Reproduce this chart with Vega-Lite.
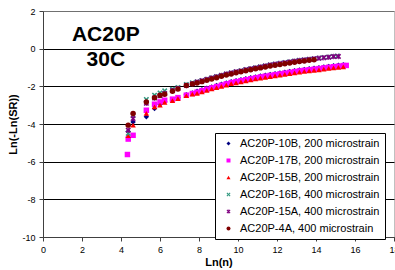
{
  "$schema": "https://vega.github.io/schema/vega-lite/v6.json",
  "width": 351,
  "height": 226,
  "autosize": {"type": "none"},
  "padding": {"left": 43, "top": 11, "right": 1, "bottom": 33},
  "background": "white",
  "config": {"font": "Liberation Sans", "view": {"stroke": "#c0c0c0", "strokeWidth": 1}},
  "encoding": {
    "x": {"field": "x", "type": "quantitative", "scale": {"domain": [0, 18], "nice": false},
      "axis": {"values": [0, 2, 4, 6, 8, 10, 12, 14, 16, 18], "labelOverlap": false, "labelBound": false, "labelFlush": false, "grid": false, "domainColor": "#404040", "tickColor": "#404040", "tickSize": 4, "labelFontSize": 9, "labelColor": "black", "labelPadding": 4, "labelExpr": "'' + datum.value", "title": "Ln(n)", "titleFontSize": 11, "titleFontWeight": "bold", "titleColor": "black", "titlePadding": 2}},
    "y": {"field": "y", "type": "quantitative", "scale": {"domain": [-10, 2], "nice": false},
      "axis": {"values": [-10, -8, -6, -4, -2, 0, 2], "labelOverlap": false, "labelBound": false, "labelFlush": false, "grid": true, "gridColor": {"condition": {"test": "datum.value === 2", "value": "#707070"}, "value": "black"}, "gridOpacity": 1, "gridWidth": 1, "domainColor": "#404040", "tickColor": "#404040", "tickSize": 4, "labelFontSize": 9, "labelColor": "black", "labelPadding": 4, "labelExpr": "'' + datum.value", "title": "Ln(-Ln(SR))", "titleFontSize": 11, "titleFontWeight": "bold", "titleColor": "black", "titlePadding": 3}}
  },
  "layer": [
    {
      "data": {"values": [
        {"s":"AC20P-10B, 200 microstrain","x":4.37,"y":-4.4},{"s":"AC20P-10B, 200 microstrain","x":4.62,"y":-3.89},{"s":"AC20P-10B, 200 microstrain","x":5.3,"y":-3.62},{"s":"AC20P-10B, 200 microstrain","x":5.72,"y":-3.18},{"s":"AC20P-10B, 200 microstrain","x":6.0,"y":-2.95},{"s":"AC20P-10B, 200 microstrain","x":6.24,"y":-2.8},{"s":"AC20P-10B, 200 microstrain","x":6.64,"y":-2.72},{"s":"AC20P-10B, 200 microstrain","x":6.92,"y":-2.6},{"s":"AC20P-10B, 200 microstrain","x":7.35,"y":-2.45},{"s":"AC20P-10B, 200 microstrain","x":7.66,"y":-2.35},
        {"s":"AC20P-10B, 200 microstrain","x":7.9,"y":-2.26},{"s":"AC20P-10B, 200 microstrain","x":8.15,"y":-2.18},{"s":"AC20P-10B, 200 microstrain","x":8.4,"y":-2.1},{"s":"AC20P-10B, 200 microstrain","x":8.65,"y":-2.03},{"s":"AC20P-10B, 200 microstrain","x":8.9,"y":-1.96},{"s":"AC20P-10B, 200 microstrain","x":9.15,"y":-1.89},{"s":"AC20P-10B, 200 microstrain","x":9.4,"y":-1.82},{"s":"AC20P-10B, 200 microstrain","x":9.65,"y":-1.75},{"s":"AC20P-10B, 200 microstrain","x":9.9,"y":-1.7},{"s":"AC20P-10B, 200 microstrain","x":10.15,"y":-1.65},{"s":"AC20P-10B, 200 microstrain","x":10.4,"y":-1.6},{"s":"AC20P-10B, 200 microstrain","x":10.65,"y":-1.55},{"s":"AC20P-10B, 200 microstrain","x":10.9,"y":-1.5},{"s":"AC20P-10B, 200 microstrain","x":11.15,"y":-1.45},{"s":"AC20P-10B, 200 microstrain","x":11.4,"y":-1.41},{"s":"AC20P-10B, 200 microstrain","x":11.65,"y":-1.37},{"s":"AC20P-10B, 200 microstrain","x":11.9,"y":-1.33},{"s":"AC20P-10B, 200 microstrain","x":12.15,"y":-1.29},{"s":"AC20P-10B, 200 microstrain","x":12.4,"y":-1.25},{"s":"AC20P-10B, 200 microstrain","x":12.65,"y":-1.21},{"s":"AC20P-10B, 200 microstrain","x":12.9,"y":-1.17},{"s":"AC20P-10B, 200 microstrain","x":13.15,"y":-1.13},{"s":"AC20P-10B, 200 microstrain","x":13.4,"y":-1.1},{"s":"AC20P-10B, 200 microstrain","x":13.65,"y":-1.07},{"s":"AC20P-10B, 200 microstrain","x":13.9,"y":-1.04},{"s":"AC20P-10B, 200 microstrain","x":14.15,"y":-1.01},{"s":"AC20P-10B, 200 microstrain","x":14.4,"y":-0.97},{"s":"AC20P-10B, 200 microstrain","x":14.65,"y":-0.94},{"s":"AC20P-10B, 200 microstrain","x":14.9,"y":-0.91},{"s":"AC20P-10B, 200 microstrain","x":15.15,"y":-0.88},{"s":"AC20P-10B, 200 microstrain","x":15.4,"y":-0.85},

        {"s":"AC20P-17B, 200 microstrain","x":4.33,"y":-5.62},{"s":"AC20P-17B, 200 microstrain","x":4.37,"y":-4.8},{"s":"AC20P-17B, 200 microstrain","x":4.62,"y":-4.6},{"s":"AC20P-17B, 200 microstrain","x":5.3,"y":-3.27},{"s":"AC20P-17B, 200 microstrain","x":5.72,"y":-2.95},{"s":"AC20P-17B, 200 microstrain","x":6.0,"y":-2.83},{"s":"AC20P-17B, 200 microstrain","x":6.24,"y":-2.74},{"s":"AC20P-17B, 200 microstrain","x":6.64,"y":-2.68},{"s":"AC20P-17B, 200 microstrain","x":6.92,"y":-2.6},{"s":"AC20P-17B, 200 microstrain","x":7.35,"y":-2.47},{"s":"AC20P-17B, 200 microstrain","x":7.66,"y":-2.38},
        {"s":"AC20P-17B, 200 microstrain","x":7.9,"y":-2.31},{"s":"AC20P-17B, 200 microstrain","x":8.15,"y":-2.23},{"s":"AC20P-17B, 200 microstrain","x":8.4,"y":-2.15},{"s":"AC20P-17B, 200 microstrain","x":8.65,"y":-2.08},{"s":"AC20P-17B, 200 microstrain","x":8.9,"y":-2.01},{"s":"AC20P-17B, 200 microstrain","x":9.15,"y":-1.94},{"s":"AC20P-17B, 200 microstrain","x":9.4,"y":-1.87},{"s":"AC20P-17B, 200 microstrain","x":9.65,"y":-1.8},{"s":"AC20P-17B, 200 microstrain","x":9.9,"y":-1.75},{"s":"AC20P-17B, 200 microstrain","x":10.15,"y":-1.7},{"s":"AC20P-17B, 200 microstrain","x":10.4,"y":-1.65},{"s":"AC20P-17B, 200 microstrain","x":10.65,"y":-1.6},{"s":"AC20P-17B, 200 microstrain","x":10.9,"y":-1.55},{"s":"AC20P-17B, 200 microstrain","x":11.15,"y":-1.5},{"s":"AC20P-17B, 200 microstrain","x":11.4,"y":-1.46},{"s":"AC20P-17B, 200 microstrain","x":11.65,"y":-1.42},{"s":"AC20P-17B, 200 microstrain","x":11.9,"y":-1.38},{"s":"AC20P-17B, 200 microstrain","x":12.15,"y":-1.34},{"s":"AC20P-17B, 200 microstrain","x":12.4,"y":-1.3},{"s":"AC20P-17B, 200 microstrain","x":12.65,"y":-1.26},{"s":"AC20P-17B, 200 microstrain","x":12.9,"y":-1.22},{"s":"AC20P-17B, 200 microstrain","x":13.15,"y":-1.18},{"s":"AC20P-17B, 200 microstrain","x":13.4,"y":-1.15},{"s":"AC20P-17B, 200 microstrain","x":13.65,"y":-1.12},{"s":"AC20P-17B, 200 microstrain","x":13.9,"y":-1.09},{"s":"AC20P-17B, 200 microstrain","x":14.15,"y":-1.06},{"s":"AC20P-17B, 200 microstrain","x":14.4,"y":-1.02},{"s":"AC20P-17B, 200 microstrain","x":14.65,"y":-0.99},{"s":"AC20P-17B, 200 microstrain","x":14.9,"y":-0.96},{"s":"AC20P-17B, 200 microstrain","x":15.15,"y":-0.93},{"s":"AC20P-17B, 200 microstrain","x":15.4,"y":-0.9},{"s":"AC20P-17B, 200 microstrain","x":15.55,"y":-0.89},

        {"s":"AC20P-15B, 200 microstrain","x":4.37,"y":-4.62},{"s":"AC20P-15B, 200 microstrain","x":4.62,"y":-4.06},{"s":"AC20P-15B, 200 microstrain","x":5.3,"y":-3.44},{"s":"AC20P-15B, 200 microstrain","x":5.72,"y":-3.09},{"s":"AC20P-15B, 200 microstrain","x":6.0,"y":-3.0},{"s":"AC20P-15B, 200 microstrain","x":6.24,"y":-2.85},{"s":"AC20P-15B, 200 microstrain","x":6.64,"y":-2.76},{"s":"AC20P-15B, 200 microstrain","x":6.92,"y":-2.65},{"s":"AC20P-15B, 200 microstrain","x":7.35,"y":-2.5},{"s":"AC20P-15B, 200 microstrain","x":7.66,"y":-2.42},
        {"s":"AC20P-15B, 200 microstrain","x":7.9,"y":-2.37},{"s":"AC20P-15B, 200 microstrain","x":8.15,"y":-2.29},{"s":"AC20P-15B, 200 microstrain","x":8.4,"y":-2.21},{"s":"AC20P-15B, 200 microstrain","x":8.65,"y":-2.14},{"s":"AC20P-15B, 200 microstrain","x":8.9,"y":-2.07},{"s":"AC20P-15B, 200 microstrain","x":9.15,"y":-2.0},{"s":"AC20P-15B, 200 microstrain","x":9.4,"y":-1.93},{"s":"AC20P-15B, 200 microstrain","x":9.65,"y":-1.86},{"s":"AC20P-15B, 200 microstrain","x":9.9,"y":-1.81},{"s":"AC20P-15B, 200 microstrain","x":10.15,"y":-1.76},{"s":"AC20P-15B, 200 microstrain","x":10.4,"y":-1.71},{"s":"AC20P-15B, 200 microstrain","x":10.65,"y":-1.66},{"s":"AC20P-15B, 200 microstrain","x":10.9,"y":-1.61},{"s":"AC20P-15B, 200 microstrain","x":11.15,"y":-1.56},{"s":"AC20P-15B, 200 microstrain","x":11.4,"y":-1.52},{"s":"AC20P-15B, 200 microstrain","x":11.65,"y":-1.48},{"s":"AC20P-15B, 200 microstrain","x":11.9,"y":-1.44},{"s":"AC20P-15B, 200 microstrain","x":12.15,"y":-1.4},{"s":"AC20P-15B, 200 microstrain","x":12.4,"y":-1.36},{"s":"AC20P-15B, 200 microstrain","x":12.65,"y":-1.32},{"s":"AC20P-15B, 200 microstrain","x":12.9,"y":-1.28},{"s":"AC20P-15B, 200 microstrain","x":13.15,"y":-1.24},{"s":"AC20P-15B, 200 microstrain","x":13.4,"y":-1.21},{"s":"AC20P-15B, 200 microstrain","x":13.65,"y":-1.18},{"s":"AC20P-15B, 200 microstrain","x":13.9,"y":-1.15},{"s":"AC20P-15B, 200 microstrain","x":14.15,"y":-1.12},{"s":"AC20P-15B, 200 microstrain","x":14.4,"y":-1.08},{"s":"AC20P-15B, 200 microstrain","x":14.65,"y":-1.05},{"s":"AC20P-15B, 200 microstrain","x":14.9,"y":-1.02},{"s":"AC20P-15B, 200 microstrain","x":15.15,"y":-0.99},{"s":"AC20P-15B, 200 microstrain","x":15.4,"y":-0.97},

        {"s":"AC20P-16B, 400 microstrain","x":4.37,"y":-4.5},{"s":"AC20P-16B, 400 microstrain","x":4.62,"y":-3.55},{"s":"AC20P-16B, 400 microstrain","x":5.3,"y":-2.7},{"s":"AC20P-16B, 400 microstrain","x":5.72,"y":-2.47},{"s":"AC20P-16B, 400 microstrain","x":6.0,"y":-2.35},{"s":"AC20P-16B, 400 microstrain","x":6.24,"y":-2.24},{"s":"AC20P-16B, 400 microstrain","x":6.64,"y":-2.15},{"s":"AC20P-16B, 400 microstrain","x":6.92,"y":-2.06},{"s":"AC20P-16B, 400 microstrain","x":7.35,"y":-1.9},{"s":"AC20P-16B, 400 microstrain","x":7.66,"y":-1.81},
        {"s":"AC20P-16B, 400 microstrain","x":7.9,"y":-1.76},{"s":"AC20P-16B, 400 microstrain","x":8.15,"y":-1.69},{"s":"AC20P-16B, 400 microstrain","x":8.4,"y":-1.62},{"s":"AC20P-16B, 400 microstrain","x":8.65,"y":-1.55},{"s":"AC20P-16B, 400 microstrain","x":8.9,"y":-1.48},{"s":"AC20P-16B, 400 microstrain","x":9.15,"y":-1.41},{"s":"AC20P-16B, 400 microstrain","x":9.4,"y":-1.34},{"s":"AC20P-16B, 400 microstrain","x":9.65,"y":-1.28},{"s":"AC20P-16B, 400 microstrain","x":9.9,"y":-1.22},{"s":"AC20P-16B, 400 microstrain","x":10.15,"y":-1.17},{"s":"AC20P-16B, 400 microstrain","x":10.4,"y":-1.11},{"s":"AC20P-16B, 400 microstrain","x":10.65,"y":-1.06},{"s":"AC20P-16B, 400 microstrain","x":10.9,"y":-1.01},{"s":"AC20P-16B, 400 microstrain","x":11.15,"y":-0.96},{"s":"AC20P-16B, 400 microstrain","x":11.4,"y":-0.91},{"s":"AC20P-16B, 400 microstrain","x":11.65,"y":-0.86},{"s":"AC20P-16B, 400 microstrain","x":11.9,"y":-0.82},{"s":"AC20P-16B, 400 microstrain","x":12.15,"y":-0.78},{"s":"AC20P-16B, 400 microstrain","x":12.4,"y":-0.74},{"s":"AC20P-16B, 400 microstrain","x":12.65,"y":-0.7},{"s":"AC20P-16B, 400 microstrain","x":12.9,"y":-0.66},{"s":"AC20P-16B, 400 microstrain","x":13.15,"y":-0.62},{"s":"AC20P-16B, 400 microstrain","x":13.4,"y":-0.59},{"s":"AC20P-16B, 400 microstrain","x":13.65,"y":-0.56},{"s":"AC20P-16B, 400 microstrain","x":13.9,"y":-0.53},{"s":"AC20P-16B, 400 microstrain","x":14.15,"y":-0.5},{"s":"AC20P-16B, 400 microstrain","x":14.4,"y":-0.47},{"s":"AC20P-16B, 400 microstrain","x":14.65,"y":-0.44},{"s":"AC20P-16B, 400 microstrain","x":14.9,"y":-0.41},{"s":"AC20P-16B, 400 microstrain","x":15.1,"y":-0.39},

        {"s":"AC20P-15A, 400 microstrain","x":4.37,"y":-4.33},{"s":"AC20P-15A, 400 microstrain","x":4.62,"y":-3.71},{"s":"AC20P-15A, 400 microstrain","x":5.3,"y":-2.9},{"s":"AC20P-15A, 400 microstrain","x":5.72,"y":-2.62},{"s":"AC20P-15A, 400 microstrain","x":6.0,"y":-2.5},{"s":"AC20P-15A, 400 microstrain","x":6.24,"y":-2.38},{"s":"AC20P-15A, 400 microstrain","x":6.64,"y":-2.22},{"s":"AC20P-15A, 400 microstrain","x":6.92,"y":-2.12},{"s":"AC20P-15A, 400 microstrain","x":7.35,"y":-1.95},{"s":"AC20P-15A, 400 microstrain","x":7.66,"y":-1.86},
        {"s":"AC20P-15A, 400 microstrain","x":7.9,"y":-1.77},{"s":"AC20P-15A, 400 microstrain","x":8.15,"y":-1.7},{"s":"AC20P-15A, 400 microstrain","x":8.4,"y":-1.63},{"s":"AC20P-15A, 400 microstrain","x":8.65,"y":-1.56},{"s":"AC20P-15A, 400 microstrain","x":8.9,"y":-1.49},{"s":"AC20P-15A, 400 microstrain","x":9.15,"y":-1.42},{"s":"AC20P-15A, 400 microstrain","x":9.4,"y":-1.35},{"s":"AC20P-15A, 400 microstrain","x":9.65,"y":-1.29},{"s":"AC20P-15A, 400 microstrain","x":9.9,"y":-1.23},{"s":"AC20P-15A, 400 microstrain","x":10.15,"y":-1.18},{"s":"AC20P-15A, 400 microstrain","x":10.4,"y":-1.12},{"s":"AC20P-15A, 400 microstrain","x":10.65,"y":-1.07},{"s":"AC20P-15A, 400 microstrain","x":10.9,"y":-1.02},{"s":"AC20P-15A, 400 microstrain","x":11.15,"y":-0.97},{"s":"AC20P-15A, 400 microstrain","x":11.4,"y":-0.92},{"s":"AC20P-15A, 400 microstrain","x":11.65,"y":-0.87},{"s":"AC20P-15A, 400 microstrain","x":11.9,"y":-0.83},{"s":"AC20P-15A, 400 microstrain","x":12.15,"y":-0.79},{"s":"AC20P-15A, 400 microstrain","x":12.4,"y":-0.75},{"s":"AC20P-15A, 400 microstrain","x":12.65,"y":-0.71},{"s":"AC20P-15A, 400 microstrain","x":12.9,"y":-0.67},{"s":"AC20P-15A, 400 microstrain","x":13.15,"y":-0.63},{"s":"AC20P-15A, 400 microstrain","x":13.4,"y":-0.6},{"s":"AC20P-15A, 400 microstrain","x":13.65,"y":-0.57},{"s":"AC20P-15A, 400 microstrain","x":13.9,"y":-0.54},{"s":"AC20P-15A, 400 microstrain","x":14.15,"y":-0.51},{"s":"AC20P-15A, 400 microstrain","x":14.4,"y":-0.48},{"s":"AC20P-15A, 400 microstrain","x":14.65,"y":-0.45},{"s":"AC20P-15A, 400 microstrain","x":14.9,"y":-0.42},{"s":"AC20P-15A, 400 microstrain","x":15.15,"y":-0.41},

        {"s":"AC20P-4A, 400 microstrain","x":4.37,"y":-4.06},{"s":"AC20P-4A, 400 microstrain","x":4.62,"y":-3.44},{"s":"AC20P-4A, 400 microstrain","x":5.3,"y":-2.83},{"s":"AC20P-4A, 400 microstrain","x":5.72,"y":-2.6},{"s":"AC20P-4A, 400 microstrain","x":6.0,"y":-2.47},{"s":"AC20P-4A, 400 microstrain","x":6.24,"y":-2.42},{"s":"AC20P-4A, 400 microstrain","x":6.64,"y":-2.26},{"s":"AC20P-4A, 400 microstrain","x":6.92,"y":-2.14},{"s":"AC20P-4A, 400 microstrain","x":7.35,"y":-1.96},{"s":"AC20P-4A, 400 microstrain","x":7.66,"y":-1.87},
        {"s":"AC20P-4A, 400 microstrain","x":7.9,"y":-1.82},{"s":"AC20P-4A, 400 microstrain","x":8.15,"y":-1.75},{"s":"AC20P-4A, 400 microstrain","x":8.4,"y":-1.68},{"s":"AC20P-4A, 400 microstrain","x":8.65,"y":-1.61},{"s":"AC20P-4A, 400 microstrain","x":8.9,"y":-1.54},{"s":"AC20P-4A, 400 microstrain","x":9.15,"y":-1.47},{"s":"AC20P-4A, 400 microstrain","x":9.4,"y":-1.4},{"s":"AC20P-4A, 400 microstrain","x":9.65,"y":-1.34},{"s":"AC20P-4A, 400 microstrain","x":9.9,"y":-1.28},{"s":"AC20P-4A, 400 microstrain","x":10.15,"y":-1.23},{"s":"AC20P-4A, 400 microstrain","x":10.4,"y":-1.17},{"s":"AC20P-4A, 400 microstrain","x":10.65,"y":-1.12},{"s":"AC20P-4A, 400 microstrain","x":10.9,"y":-1.07},{"s":"AC20P-4A, 400 microstrain","x":11.15,"y":-1.02},{"s":"AC20P-4A, 400 microstrain","x":11.4,"y":-0.97},{"s":"AC20P-4A, 400 microstrain","x":11.65,"y":-0.92},{"s":"AC20P-4A, 400 microstrain","x":11.9,"y":-0.88},{"s":"AC20P-4A, 400 microstrain","x":12.15,"y":-0.84},{"s":"AC20P-4A, 400 microstrain","x":12.4,"y":-0.8},{"s":"AC20P-4A, 400 microstrain","x":12.65,"y":-0.76},{"s":"AC20P-4A, 400 microstrain","x":12.9,"y":-0.72},{"s":"AC20P-4A, 400 microstrain","x":13.15,"y":-0.68},{"s":"AC20P-4A, 400 microstrain","x":13.4,"y":-0.65},{"s":"AC20P-4A, 400 microstrain","x":13.65,"y":-0.62},{"s":"AC20P-4A, 400 microstrain","x":13.9,"y":-0.59}
      ]},
      "mark": {"type": "point", "filled": true, "size": 30, "opacity": 1},
      "encoding": {
        "color": {"field": "s", "type": "nominal",
          "scale": {"domain": ["AC20P-10B, 200 microstrain", "AC20P-17B, 200 microstrain", "AC20P-15B, 200 microstrain", "AC20P-16B, 400 microstrain", "AC20P-15A, 400 microstrain", "AC20P-4A, 400 microstrain"],
                    "range": ["#000080", "#FF00FF", "#FF0000", "#339980", "#800080", "#800000"]},
          "legend": {"orient": "none", "legendX": 172, "legendY": 122, "title": null, "strokeColor": "black", "fillColor": "white", "padding": 5, "symbolSize": 16, "labelFontSize": 11, "labelColor": "black", "rowPadding": 5, "labelOffset": 6, "symbolOffset": 3}},
        "shape": {"field": "s", "type": "nominal",
          "scale": {"domain": ["AC20P-10B, 200 microstrain", "AC20P-17B, 200 microstrain", "AC20P-15B, 200 microstrain", "AC20P-16B, 400 microstrain", "AC20P-15A, 400 microstrain", "AC20P-4A, 400 microstrain"],
                    "range": ["diamond", "square", "triangle-up", "M-1,-0.6L-0.6,-1L0,-0.4L0.6,-1L1,-0.6L0.4,0L1,0.6L0.6,1L0,0.4L-0.6,1L-1,0.6L-0.4,0Z", "M-1,-0.6L-0.6,-1L0,-0.4L0.6,-1L1,-0.6L0.4,0L1,0.6L0.6,1L0,0.4L-0.6,1L-1,0.6L-0.4,0ZM-0.15,-1H0.15V1H-0.15Z", "circle"]},
          "legend": {"orient": "none", "legendX": 172, "legendY": 122, "title": null}}
      }
    },
    {
      "data": {"values": [{"t": "AC20P", "x": 3.22, "y": 0.74}, {"t": "30C", "x": 3.22, "y": -0.62}]},
      "mark": {"type": "text", "fontSize": 21, "fontWeight": "bold", "font": "Liberation Sans", "color": "black", "align": "center", "baseline": "middle"},
      "encoding": {
        "text": {"field": "t"}
      }
    }
  ]
}
